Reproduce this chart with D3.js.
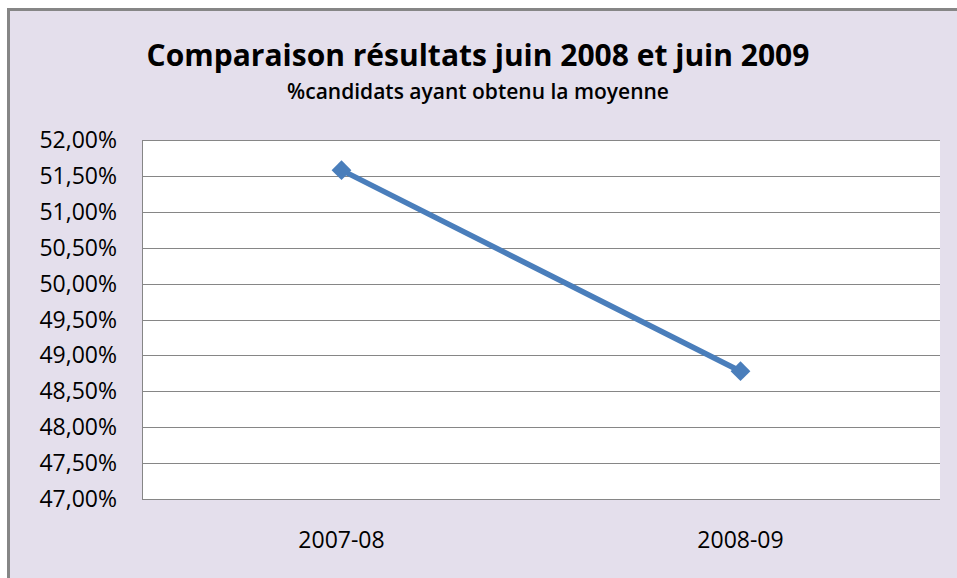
<!DOCTYPE html>
<html>
<head>
<meta charset="utf-8">
<script src="https://d3js.org/d3.v7.min.js"></script>
<style>
  body { margin: 0; background: #fff; }
  text { font-family: "Open Sans", "Noto Sans", sans-serif; fill: #000; }
</style>
</head>
<body>
<script>
// data
var categories = ["2007-08", "2008-09"];
var values = [51.58, 48.78];
var yTicks = [47, 47.5, 48, 48.5, 49, 49.5, 50, 50.5, 51, 51.5, 52];

var w = 957, h = 578;
var plot = {left: 142, top: 140, right: 940, bottom: 499};

var svg = d3.select("body").append("svg")
    .attr("width", w)
    .attr("height", h);

// chart background + border
svg.append("rect")
    .attr("x", 8.5).attr("y", 9.5)
    .attr("width", 960).attr("height", 580)
    .attr("fill", "#e4dfec")
    .attr("stroke", "#868686")
    .attr("stroke-width", 3);

svg.append("rect")
    .attr("x", plot.left).attr("y", plot.top)
    .attr("width", plot.right - plot.left)
    .attr("height", plot.bottom - plot.top)
    .attr("fill", "#fff");

var x = d3.scaleBand()
    .domain(categories)
    .range([plot.left, plot.right]);

var y = d3.scaleLinear()
    .domain([47, 52])
    .range([plot.bottom, plot.top]);

// gridlines
svg.append("g")
    .selectAll("line")
    .data(yTicks)
    .enter().append("line")
    .attr("x1", plot.left).attr("x2", plot.right)
    .attr("y1", function(d) { return Math.round(y(d)) + 0.5; })
    .attr("y2", function(d) { return Math.round(y(d)) + 0.5; })
    .attr("stroke", "#868686")
    .attr("stroke-width", 1);

// left axis line
svg.append("line")
    .attr("x1", plot.left + 0.5).attr("x2", plot.left + 0.5)
    .attr("y1", plot.top).attr("y2", plot.bottom + 1)
    .attr("stroke", "#868686");

// y labels
svg.append("g")
    .selectAll("text")
    .data(yTicks)
    .enter().append("text")
    .attr("x", 117)
    .attr("y", function(d) { return y(d) + 8; })
    .attr("text-anchor", "end")
    .style("font-size", "23px")
    .text(function(d) { return d3.format(".2f")(d).replace(".", ",") + "%"; });

// x labels
svg.append("g")
    .selectAll("text")
    .data(categories)
    .enter().append("text")
    .attr("x", function(d) { return x(d) + x.bandwidth() / 2; })
    .attr("y", 548)
    .attr("text-anchor", "middle")
    .style("font-size", "23px")
    .text(function(d) { return d; });

// series line
var line = d3.line()
    .x(function(d, i) { return x(categories[i]) + x.bandwidth() / 2; })
    .y(function(d) { return y(d); });

svg.append("path")
    .datum(values)
    .attr("d", line)
    .attr("fill", "none")
    .attr("stroke", "#4a7ebb")
    .attr("stroke-width", 5.5)
    .attr("stroke-linecap", "round");

svg.append("g")
    .selectAll("path")
    .data(values)
    .enter().append("path")
    .attr("d", d3.symbol().type(d3.symbolDiamond2).size(250))
    .attr("transform", function(d, i) {
        return "translate(" + (x(categories[i]) + x.bandwidth() / 2) + "," + y(d) + ")";
    })
    .attr("fill", "#4a7ebb");

// titles
svg.append("text")
    .attr("x", 478)
    .attr("y", 66)
    .attr("text-anchor", "middle")
    .style("font-size", "30px")
    .style("font-weight", "bold")
    .text("Comparaison résultats juin 2008 et juin 2009");

svg.append("text")
    .attr("x", 478)
    .attr("y", 99)
    .attr("text-anchor", "middle")
    .style("font-size", "21px")
    .style("font-weight", "600")
    .text("%candidats ayant obtenu la moyenne");
</script>
</body>
</html>
